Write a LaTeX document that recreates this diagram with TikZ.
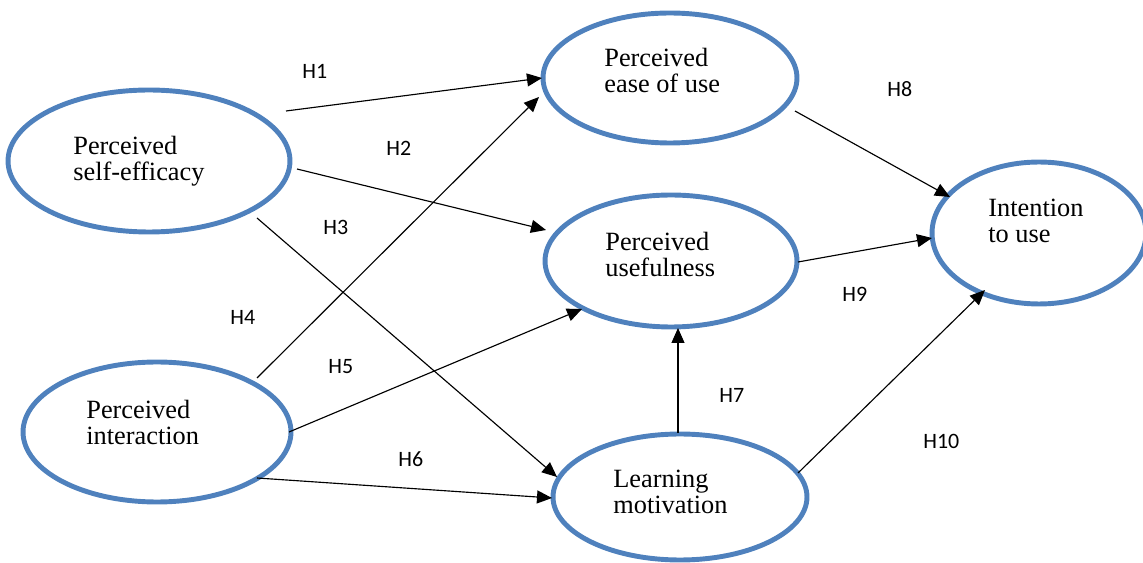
\documentclass[tikz,border=0pt]{standalone}
\usepackage{fontspec}
\setmainfont{Liberation Serif}
\newfontfamily\hfont{Carlito}
\usetikzlibrary{shapes.geometric,arrows.meta}
\definecolor{ellblue}{RGB}{79,129,189}
\tikzset{
  construct/.style={ellipse,draw=ellblue,line width=2.8pt,inner sep=0pt},
  ctext/.style={anchor=base west,align=left,inner sep=0pt,font=\fontsize{15}{15.2}\selectfont},
  hyp/.style={anchor=base west,inner sep=0pt,font=\hfont\fontsize{12.5}{14}\selectfont},
  path/.style={line width=0.65pt,-{Triangle[length=0.3cm,width=0.26cm]}}
}
\begin{document}
\begin{tikzpicture}[x=0.02cm,y=-0.02cm]
\useasboundingbox (0,0) rectangle (1143,563);
% ellipses
\node[construct,minimum width=5.64cm,minimum height=2.84cm] (pse) at (149,161) {};
\node[construct,minimum width=5.08cm,minimum height=2.60cm] (peou) at (670,78) {};
\node[construct,minimum width=5.04cm,minimum height=2.64cm] (pu) at (671,261) {};
\node[construct,minimum width=4.28cm,minimum height=2.84cm] (itu) at (1039,233) {};
\node[construct,minimum width=5.36cm,minimum height=2.80cm] (pi) at (157,432) {};
\node[construct,minimum width=5.08cm,minimum height=2.52cm] (lm) at (680,497) {};
% texts (base = baseline of last line)
\node[ctext] (tpse) at (73,181) {Perceived\\self-efficacy};
\node[ctext] (tpeou) at (604,93) {Perceived\\ease of use};
\node[ctext] (tpu) at (605,277) {Perceived\\usefulness};
\node[ctext] (titu) at (988,243) {Intention\\to use};
\node[ctext] (tpi) at (86,445) {Perceived\\interaction};
\node[ctext] (tlm) at (613,514) {Learning\\motivation};
% connector ends
\coordinate (a1s) at (286,111); \coordinate (a1e) at (542,78);
\coordinate (a2s) at (297,169); \coordinate (a2e) at (546,230);
\coordinate (a3s) at (257,218); \coordinate (a3e) at (557,477);
\coordinate (a4s) at (257,378); \coordinate (a4e) at (539,97);
\coordinate (a5s) at (289,432); \coordinate (a5e) at (582,309);
\coordinate (a6s) at (257,478); \coordinate (a6e) at (552,498);
\coordinate (a7s) at (678,433); \coordinate (a7e) at (678,328);
\coordinate (a8s) at (795,111); \coordinate (a8e) at (950,197);
\coordinate (a9s) at (798,262); \coordinate (a9e) at (932,238);
\coordinate (a10s) at (798,473); \coordinate (a10e) at (985,290);
% connectors
\draw[path] (a1s) -- (a1e);
\draw[path] (a2s) -- (a2e);
\draw[path] (a3s) -- (a3e);
\draw[path] (a4s) -- (a4e);
\draw[path] (a5s) -- (a5e);
\draw[path] (a6s) -- (a6e);
\draw[path] (a7s) -- (a7e);
\draw[path] (a8s) -- (a8e);
\draw[path] (a9s) -- (a9e);
\draw[path] (a10s) -- (a10e);
% hypothesis labels
\node[hyp] (h1) at (302,79) {H1};
\node[hyp] (h2) at (386,156) {H2};
\node[hyp] (h3) at (323,235) {H3};
\node[hyp] (h4) at (230,325) {H4};
\node[hyp] (h5) at (328,374) {H5};
\node[hyp] (h6) at (398,467) {H6};
\node[hyp] (h7) at (719,403) {H7};
\node[hyp] (h8) at (887,97) {H8};
\node[hyp] (h9) at (842,302) {H9};
\node[hyp] (h10) at (923,449) {H10};
\end{tikzpicture}
\end{document}
